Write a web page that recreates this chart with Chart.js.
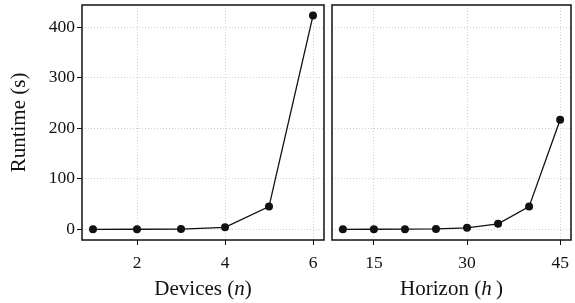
<!DOCTYPE html>
<html>
<head>
<meta charset="utf-8">
<script src="https://cdn.jsdelivr.net/npm/chart.js@4"></script>
<style>
  body { margin: 0; background: #fff; }
  .panel { position: absolute; top: 0; height: 303px; }
</style>
</head>
<body>
<div class="panel" style="left:0;width:330px"><canvas id="left"></canvas></div>
<div class="panel" style="left:328px;width:247px"><canvas id="right"></canvas></div>
<script>
// data
const devices = [1, 2, 3, 4, 5, 6];
const devicesRuntime = [0.1, 0.2, 0.5, 4, 45, 423];
const horizons = [10, 15, 20, 25, 30, 35, 40, 45];
const horizonRuntime = [0.1, 0.2, 0.3, 0.8, 3, 11, 45, 217];

const yTicks = [0, 100, 200, 300, 400];
const devicesTicks = [2, 4, 6];
const horizonTicks = [15, 30, 45];

const serif = "'Liberation Serif', 'Times New Roman', serif";

// panel box + axis title with italic variable
const panelPlugin = {
  id: 'panel',
  afterDraw(chart, args, opts) {
    const ctx = chart.ctx, a = chart.chartArea;
    ctx.save();
    ctx.strokeStyle = '#111';
    ctx.lineWidth = 1.5;
    ctx.strokeRect(a.left, a.top, a.right - a.left, a.bottom - a.top);
    // x title
    const parts = [[opts.word + ' (', 'normal'], [opts.sym, 'italic'], [opts.close, 'normal']];
    let w = 0;
    parts.forEach(p => { ctx.font = p[1] + ' 21px ' + serif; w += ctx.measureText(p[0]).width; });
    let x = (a.left + a.right) / 2 - w / 2;
    ctx.fillStyle = '#111';
    ctx.textBaseline = 'alphabetic';
    parts.forEach(p => {
      ctx.font = p[1] + ' 21px ' + serif;
      ctx.fillText(p[0], x, 295);
      x += ctx.measureText(p[0]).width;
    });
    ctx.restore();
  }
};

function makeChart(id, xs, ys, xMin, xMax, xTicks, title, sym, close, showY) {
  return new Chart(document.getElementById(id), {
    type: 'line',
    data: {
      datasets: [{
        data: xs.map((x, i) => ({x: x, y: ys[i]})),
        borderColor: '#111',
        backgroundColor: '#111',
        borderWidth: 1.3,
        pointRadius: 4,
        pointBorderWidth: 0,
        tension: 0
      }]
    },
    options: {
      responsive: true,
      maintainAspectRatio: false,
      animation: false,
      layout: { padding: { top: 5, right: showY ? 6 : 2, left: 0, bottom: 0 } },
      plugins: {
        legend: { display: false },
        tooltip: { enabled: false },
        panel: { word: title, sym: sym, close: close }
      },
      scales: {
        x: {
          type: 'linear',
          min: xMin, max: xMax,
          afterBuildTicks: s => { s.ticks = xTicks.map(v => ({value: v})); },
          afterFit: s => { s.height = 63; s.paddingLeft = 0; s.paddingRight = 0; },
          grid: { color: '#cfcfcf', tickColor: '#111', tickLength: 5, tickWidth: 1, lineWidth: 1 },
          border: { display: false, dash: [1, 2] },
          ticks: { color: '#111', font: { family: serif, size: 17.5 }, padding: 8, maxRotation: 0 }
        },
        y: {
          min: -21.1, max: 444,
          afterBuildTicks: s => { s.ticks = yTicks.map(v => ({value: v})); },
          afterFit: s => { s.width = showY ? 82 : 4; s.paddingTop = 0; s.paddingBottom = 0; },
          grid: { color: '#cfcfcf', tickColor: '#111', tickLength: 5, drawTicks: showY, lineWidth: 1 },
          border: { display: false, dash: [1, 2] },
          ticks: { display: showY, color: '#111', font: { family: serif, size: 17.5 }, padding: 2 },
          title: {
            display: showY, text: 'Runtime (s)', color: '#111',
            font: { family: serif, size: 21 }, padding: { top: 7, bottom: 0 }
          }
        }
      }
    },
    plugins: [panelPlugin]
  });
}

makeChart('left', devices, devicesRuntime, 0.75, 6.25, devicesTicks, 'Devices', 'n', ')', true);
makeChart('right', horizons, horizonRuntime, 8.25, 46.75, horizonTicks, 'Horizon', 'h', '\u2009)', false);
</script>
</body>
</html>
